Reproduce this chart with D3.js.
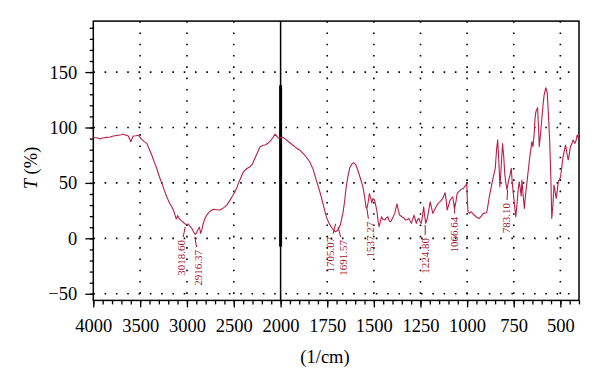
<!DOCTYPE html>
<html>
<head>
<meta charset="utf-8">
<script src="https://cdn.jsdelivr.net/npm/d3@7"></script>
<style>
body { margin: 0; background: #fff; }
text { font-family: "Liberation Serif", "Times New Roman", serif; }
</style>
</head>
<body>
<script>
// spectrum, wavenumber (1/cm) against transmittance (%)
const wavenumbers = [
    4000, 3950, 3928, 3900, 3857, 3820, 3786, 3750, 3700, 3679, 3650, 3626, 3600, 3573, 3545, 3519,
    3483, 3460, 3429, 3400, 3376, 3350, 3323, 3296, 3269, 3240, 3216, 3190, 3162, 3140, 3127, 3115,
    3109, 3100, 3085, 3060, 3040, 3020, 3005, 2985, 2965, 2949, 2930, 2913, 2900, 2889, 2867, 2853,
    2840, 2831, 2810, 2788, 2760, 2718, 2680, 2646, 2610, 2575, 2540, 2504, 2475, 2451, 2420, 2397,
    2360, 2326, 2300, 2291, 2260, 2219, 2190, 2166, 2140, 2112, 2085, 2059, 2040, 2023, 2010, 2000,
    1987, 1967, 1942, 1920, 1896, 1889, 1870, 1844, 1825, 1809, 1795, 1782, 1768, 1755, 1740, 1729,
    1717, 1707, 1700, 1693, 1680, 1666, 1657, 1648, 1640, 1630, 1618, 1607, 1596, 1586, 1572, 1559,
    1550, 1542, 1537, 1530, 1524, 1518, 1511, 1505, 1497, 1490, 1483, 1477, 1472, 1465, 1459, 1450,
    1442, 1433, 1425, 1417, 1410, 1400, 1388, 1376, 1368, 1362, 1350, 1340, 1330, 1320, 1312, 1305,
    1299, 1292, 1285, 1278, 1272, 1265, 1258, 1252, 1246, 1239, 1233, 1228, 1222, 1215, 1210, 1204,
    1198, 1191, 1184, 1175, 1166, 1155, 1142, 1130, 1118, 1112, 1107, 1099, 1091, 1077, 1068, 1060,
    1053, 1042, 1032, 1020, 1014, 1006, 1002, 999, 995, 988, 979, 965, 952, 943, 934, 924,
    913, 895, 888, 881, 872, 863, 856, 849, 842, 836, 830, 824, 817, 810, 804, 798,
    792, 786, 778, 771, 763, 758, 751, 745, 739, 733, 727, 721, 715, 710, 706, 699,
    693, 685, 676, 667, 660, 653, 647, 640, 636, 631, 622, 617, 613, 606, 599, 593,
    587, 578, 570, 565, 557, 551, 546, 540, 534, 528, 522, 516, 511, 505, 499, 493,
    487, 480, 472, 465, 458, 452, 446, 439, 432, 427, 422, 416, 410, 405, 400
];
const transmittance = [
    91, 90.5, 89.6, 90.5, 91.1, 91.5, 92.3, 92.8, 93.5, 93.9, 93, 92.3, 87.2, 92.3, 92.5, 93,
    89.3, 87.5, 85.7, 80, 75.2, 69, 63.2, 56, 49.6, 43, 37.5, 32.5, 28.5, 24.5, 21, 17.5,
    18.5, 20.5, 18, 16, 14.5, 13, 12.5, 12.9, 10.5, 9, 6, 3.5, 4.5, 7, 10, 4.5,
    8, 12, 17.5, 21, 24, 26.2, 25.8, 25.5, 27.5, 30, 34.5, 39.5, 44, 49.6, 55.5, 60,
    63, 64.6, 67, 69.1, 75, 82.7, 84, 84.2, 85.5, 87.5, 90.5, 94, 92, 90.3, 90.5, 91,
    91.1, 88.5, 85.1, 82, 79.5, 78.2, 75, 69.1, 62, 52.6, 45, 37.5, 28, 19.5, 13.5, 10.5,
    7.5, 6, 6.5, 7.5, 12, 22.5, 33, 46.6, 55, 63.2, 67, 68.2, 66, 61.6, 54, 46.6,
    38, 28, 27, 33, 40.3, 37, 32, 36, 34.6, 30, 24, 15, 10.5, 15, 19.5, 17,
    16.5, 18.5, 19.5, 15.5, 15, 18, 22.5, 31, 25, 21, 19.5, 18.5, 16.5, 17, 18, 15.5,
    13.5, 17, 21, 17, 13.5, 17, 18, 15, 13.5, 20, 28.5, 21, 13.5, 17, 21, 27,
    33, 28, 22.5, 25.5, 28.5, 31.6, 33.5, 36.1, 41.2, 34, 25.5, 30, 34.6, 37.5, 27, 33,
    40.6, 42.5, 44.2, 45, 46.6, 48, 50.2, 36, 24, 22.5, 24, 21.5, 19.5, 18.5, 18, 20,
    22.5, 23.1, 30, 37.5, 45, 52.6, 58, 63.2, 80, 89, 70, 46.6, 65, 85.5, 75, 58,
    49.6, 44, 52, 56, 63.2, 50, 39, 28, 19.5, 30, 42, 51, 45, 38, 52.6, 38,
    27, 42, 55, 69.1, 78, 87.2, 82.7, 95, 108, 114.3, 117.9, 100, 82.7, 95, 108.3, 120,
    129.3, 135.9, 130.9, 115, 87.2, 55, 18, 30, 48.1, 42, 36.1, 44, 51, 53, 55.6, 63,
    72.2, 78, 84.2, 77, 70.7, 76, 82.7, 85, 88.7, 87, 85.7, 88, 93.2, 91, 94
];

// annotated peaks
const peakWavenumbers = [3018.60, 2916.37, 1705.07, 1691.57, 1537.27, 1224.80, 1066.64, 783.10];
const peakLabels = ["3018.60", "2916.37", "1705.07", "1691.57", "1537.27", "1224.80", "1066.64", "783.10"];
const peakLabelLevels = [-1.5, -10.6, 1.4, -1.5, 15, 0.3, 19.5, 31.9];

const xMajorTicks = [4000, 3500, 3000, 2500, 2000, 1750, 1500, 1250, 1000, 750, 500];
const yMajorTicks = [-50, 0, 50, 100, 150];

const width = 600;
const height = 391;
const plotLeft = 93.3, plotRight = 579, plotTop = 21.1, plotBottom = 300.4;
const lineColor = "#b5204a";
const labelColor = "#a3162e";
const labelShift = [-4, 3.6, -5, 5, 3, 0, 0, -1];

const svg = d3
    .select("body")
    .append("svg")
    .attr("width", width)
    .attr("height", height);

// broken axis: 4000-2000 and 2000-400 share the same length per 500 / 250
const x = d3.scaleLinear().domain([4000, 2000, 400]).range([plotLeft, 280.6, plotRight]);
const y = d3.scaleLinear().domain([-56, 196]).range([plotBottom, plotTop]);

const grid = svg.append("g");
grid.selectAll("line.v")
    .data(xMajorTicks.filter(d => d !== 4000 && d !== 2000))
    .enter()
    .append("line")
    .attr("class", "v")
    .attr("x1", d => x(d))
    .attr("x2", d => x(d))
    .attr("y1", plotTop)
    .attr("y2", plotBottom);
grid.selectAll("line.h")
    .data(yMajorTicks)
    .enter()
    .append("line")
    .attr("class", "h")
    .attr("x1", plotLeft)
    .attr("x2", plotRight)
    .attr("y1", d => y(d))
    .attr("y2", d => y(d));
grid.selectAll("line")
    .attr("stroke", "#000")
    .attr("stroke-width", 1.6)
    .attr("stroke-dasharray", "1.6,9.7");

// frame
svg.append("rect")
    .attr("x", plotLeft)
    .attr("y", plotTop)
    .attr("width", plotRight - plotLeft)
    .attr("height", plotBottom - plotTop)
    .attr("fill", "none")
    .attr("stroke", "#000")
    .attr("stroke-width", 1.5);

// divider at 2000
svg.append("line")
    .attr("x1", x(2000)).attr("x2", x(2000))
    .attr("y1", plotTop).attr("y2", plotBottom)
    .attr("stroke", "#000")
    .attr("stroke-width", 1.5);
svg.append("line")
    .attr("x1", x(2000)).attr("x2", x(2000))
    .attr("y1", y(138)).attr("y2", y(-7.5))
    .attr("stroke", "#000")
    .attr("stroke-width", 3);

// x axis
const xMinor = d3.range(4000, 2000, -100).concat(d3.range(2000, 399, -50));
svg.append("g")
    .attr("transform", "translate(0," + plotBottom + ")")
    .call(d3.axisBottom(x).tickValues(xMinor).tickSize(4).tickFormat(""))
    .call(g => g.select(".domain").remove());
svg.append("g")
    .attr("transform", "translate(0," + plotBottom + ")")
    .call(d3.axisBottom(x).tickValues(xMajorTicks).tickSize(7).tickPadding(11).tickFormat(d3.format("d")))
    .call(g => g.select(".domain").remove())
    .call(g => g.selectAll("text")
        .style("font-size", "18.5px")
        .style("font-family", "'Liberation Serif', serif")
        .attr("fill", "#000"));

// y axis
svg.append("g")
    .attr("transform", "translate(" + plotLeft + ",0)")
    .call(d3.axisLeft(y).tickValues(d3.range(-50, 191, 10)).tickSize(3.5).tickFormat(""))
    .call(g => g.select(".domain").remove());
svg.append("g")
    .attr("transform", "translate(" + plotLeft + ",0)")
    .call(d3.axisLeft(y).tickValues(yMajorTicks).tickSize(8).tickPadding(8))
    .call(g => g.select(".domain").remove())
    .call(g => g.selectAll("text")
        .style("font-size", "18.5px")
        .style("font-family", "'Liberation Serif', serif")
        .attr("fill", "#000"));

svg.selectAll(".tick line").attr("stroke", "#000").attr("stroke-width", 1.3);

// axis titles
svg.append("text")
    .attr("x", 325)
    .attr("y", 363)
    .attr("text-anchor", "middle")
    .style("font-size", "18.5px")
    .text("(1/cm)");

const yTitle = svg.append("text")
    .attr("transform", "translate(37,168) rotate(-90)")
    .attr("text-anchor", "middle")
    .style("font-size", "18.5px");
yTitle.append("tspan").style("font-style", "italic").text("T");
yTitle.append("tspan").text(" (%)");

// spectrum
const points = wavenumbers.map((w, i) => [w, transmittance[i]]);
const line = d3.line()
    .x(d => x(d[0]))
    .y(d => y(d[1]));

svg.append("path")
    .datum(points)
    .attr("d", line)
    .attr("fill", "none")
    .attr("stroke", lineColor)
    .attr("stroke-width", 1.1)
    .attr("stroke-linejoin", "round");

// peak labels
const peaks = svg.selectAll("g.peak")
    .data(peakWavenumbers)
    .enter()
    .append("g")
    .attr("class", "peak");

peaks.append("line")
    .attr("x1", d => x(d))
    .attr("x2", (d, i) => x(d) + labelShift[i] / 2)
    .attr("y1", (d, i) => y(peakLabelLevels[i]) - 13)
    .attr("y2", (d, i) => y(peakLabelLevels[i]) - 3)
    .attr("stroke", labelColor)
    .attr("stroke-width", 1);

peaks.append("text")
    .attr("transform", (d, i) =>
        "translate(" + (x(d) + labelShift[i] + 3.8) + "," + y(peakLabelLevels[i]) + ") rotate(-90)")
    .attr("text-anchor", "end")
    .attr("fill", labelColor)
    .style("font-size", "11px")
    .text((d, i) => peakLabels[i]);
</script>
</body>
</html>
